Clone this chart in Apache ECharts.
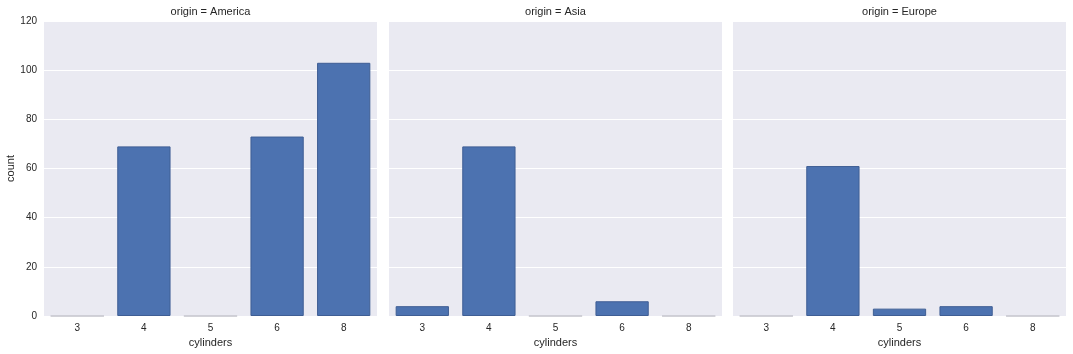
<!DOCTYPE html>
<html>
<head>
<meta charset="utf-8">
<script src="https://cdn.jsdelivr.net/npm/echarts@6/dist/echarts.min.js"></script>
<style>
html,body{margin:0;padding:0;background:#fff;}
#chart{width:1073px;height:354px;}
</style>
</head>
<body>
<div id="chart"></div>
<script>
const categories = ['3', '4', '5', '6', '8'];
const panels = ['America', 'Asia', 'Europe'];
const americaCounts = [0, 69, 0, 73, 103];
const asiaCounts = [4, 69, 0, 6, 0];
const europeCounts = [0, 61, 3, 4, 0];
const yTicks = [0, 20, 40, 60, 80, 100, 120];

const seriesValues = [americaCounts, asiaCounts, europeCounts];
const gridLefts = [44, 389, 733];
const gridWidth = 333;
const gridTop = 21;
const gridHeight = 295;
const font = 'Liberation Sans, Arial, sans-serif';
const textColor = '#262626';

const grids = [], xAxes = [], yAxes = [], series = [], graphics = [];
panels.forEach((p, i) => {
  grids.push({left: gridLefts[i], top: gridTop, width: gridWidth, height: gridHeight,
    show: true, backgroundColor: '#eaeaf2', borderWidth: 0, containLabel: false,
    outerBoundsMode: 'none'});
  xAxes.push({type: 'category', gridIndex: i, data: categories,
    axisLine: {show: false}, axisTick: {show: false}, splitLine: {show: false},
    axisLabel: {color: textColor, fontSize: 10, fontFamily: font, margin: 7},
    name: 'cylinders', nameLocation: 'middle', nameGap: 20,
    nameTextStyle: {color: textColor, fontSize: 11, fontFamily: font}});
  yAxes.push({type: 'value', gridIndex: i, min: 0, max: yTicks[yTicks.length - 1], interval: 20,
    axisLine: {show: false}, axisTick: {show: false},
    splitLine: {show: true, lineStyle: {color: '#ffffff', width: 1}},
    axisLabel: {show: i === 0, color: textColor, fontSize: 10, fontFamily: font, margin: 7},
    name: i === 0 ? 'count' : '', nameLocation: 'middle', nameGap: 26, nameRotate: 90,
    nameTextStyle: {color: textColor, fontSize: 11, fontFamily: font}});
  series.push({type: 'bar', xAxisIndex: i, yAxisIndex: i,
    data: seriesValues[i].map(v => v === 0
      ? {value: v, itemStyle: {borderColor: '#c4c4cc'}}
      : v),
    barCategoryGap: '20%', silent: true,
    itemStyle: {color: '#4c72b0', borderColor: '#3f5e94', borderWidth: 1}});
  graphics.push({type: 'text', x: gridLefts[i] + gridWidth / 2, y: 12,
    style: {text: 'origin = ' + p, align: 'center', textAlign: 'center',
      verticalAlign: 'middle', textVerticalAlign: 'middle',
      font: '11px ' + font, fill: textColor}});
});

const chart = echarts.init(document.getElementById('chart'), null, {renderer: 'canvas'});
chart.setOption({
  animation: false,
  grid: grids, xAxis: xAxes, yAxis: yAxes, series: series, graphic: graphics
});
</script>
</body>
</html>
